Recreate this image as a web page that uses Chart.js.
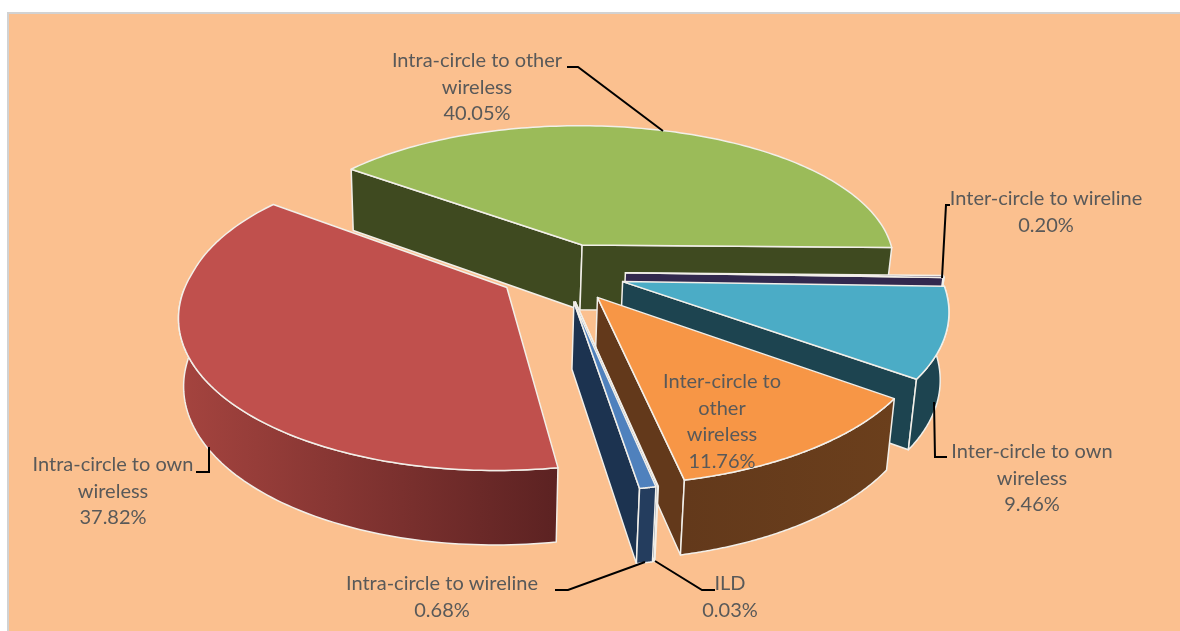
<!DOCTYPE html>
<html>
<head>
<meta charset="utf-8">
<style>
  html, body { margin: 0; padding: 0; background: #fff; overflow: hidden; }
  #frame { position: absolute; left: 7px; top: 12px; width: 1173px; height: 619px; box-sizing: border-box;
           background: #fbc08f; border-left: 2px solid #d2d2d2; border-top: 2px solid #d2d2d2; }
  #pie { position: absolute; left: 0; top: 0; }
</style>
<script src="https://cdn.jsdelivr.net/npm/chart.js@4/dist/chart.umd.min.js"></script>
</head>
<body>
<div id="frame"></div>
<canvas id="pie" width="1180" height="631"></canvas>
<script>
const categories = [
  'Intra-circle to other wireless',
  'Inter-circle to wireline',
  'Inter-circle to own wireless',
  'Inter-circle to other wireless',
  'ILD',
  'Intra-circle to wireline',
  'Intra-circle to own wireless'
];
const shares = [40.05, 0.20, 9.46, 11.76, 0.03, 0.68, 37.82];

const topColors   = ['#9bbb59', '#3a2f55', '#4bacc6', '#f79646', '#4f81bd', '#4f81bd', '#c0504d'];
const faceColors  = ['#3f4a20', '#32284e', '#1d4450', '#63391b', '#1c3350', '#1c3350', '#5c2222'];
const wallLeft    = ['#3f4a20', '#32284e', '#1d4450', '#63391b', '#243d5e', '#243d5e', '#a5443f'];
const wallRight   = ['#3f4a20', '#32284e', '#1d4450', '#6b3f1c', '#243d5e', '#243d5e', '#5c2222'];

// label text, broken over lines the way the chart does it
const labelLines = [
  ['Intra-circle to other', 'wireless'],
  ['Inter-circle to wireline'],
  ['Inter-circle to own', 'wireless'],
  ['Inter-circle to', 'other', 'wireless'],
  ['ILD'],
  ['Intra-circle to wireline'],
  ['Intra-circle to own', 'wireless']
];
const labelX = [477, 1046, 1032, 722, 730, 442, 113];
const labelY = [61, 199, 452, 382, 584, 584, 465];
const leaders = [
  [[567, 67], [578, 67], [663, 131]],
  [[950, 205], [946, 205], [942, 278]],
  [[934, 402], [935, 457], [947, 457]],
  null,
  [[655, 561], [702, 590], [715, 590]],
  [[555, 590], [568, 590], [645, 562]],
  [[209, 447], [209, 472], [196, 472]]
];

// tilted camera: the flat pie gets squashed, front gets closer, bottom shrinks a bit
const SCALE_X = 1.28, SCALE_Y = 0.595, NEAR_BACK = 0.13, NEAR_FRONT = 0.165, DEPTH = 66;
const TAPER = 0.018, TAPER_FROM = 0.4; // bottom shrinks towards a point left of the center

const view = (el, u, v, z) => {
  const R = el.outerRadius;
  const wx = 1 - (v < 0 ? NEAR_BACK : NEAR_FRONT) * v;
  const wy = 1 - NEAR_FRONT * v;
  const x = SCALE_X * R * u / wx + TAPER_FROM * R;
  return [
    el.x + x * (1 - TAPER * z / DEPTH) - TAPER_FROM * R,
    el.y + SCALE_Y * R * v / wy + z / Math.pow(wy, 0.6)
  ];
};

const tracePoly = (ctx, pts) => {
  ctx.beginPath();
  pts.forEach((p, i) => i ? ctx.lineTo(p[0], p[1]) : ctx.moveTo(p[0], p[1]));
  ctx.closePath();
};

const fillPoly = (ctx, pts, fill) => {
  tracePoly(ctx, pts);
  ctx.fillStyle = fill;
  ctx.fill();
  ctx.strokeStyle = '#f2efe9';
  ctx.lineWidth = 1.5;
  ctx.lineJoin = 'round';
  ctx.stroke();
};

const drawSlice = (ctx, el, i) => {
  const start = el.startAngle, end = el.endAngle;
  const mid = (start + end) / 2;
  const off = el.options.offset / el.outerRadius;
  const ax = off * Math.cos(mid), ay = off * Math.sin(mid);
  const rim = (a, z) => view(el, ax + Math.cos(a), ay + Math.sin(a), z);
  const apex = z => view(el, ax, ay, z);

  // cut faces, only the ones that look at the camera
  if (Math.cos(start) < 0) {
    fillPoly(ctx, [apex(0), rim(start, 0), rim(start, DEPTH), apex(DEPTH)], faceColors[i]);
  }
  if (Math.cos(end) > 0) {
    fillPoly(ctx, [apex(0), rim(end, 0), rim(end, DEPTH), apex(DEPTH)], faceColors[i]);
  }

  // outer wall, front half of the circle only
  const wallTop = [], wallBottom = [];
  const steps = 120;
  for (let s = 0; s <= steps; s++) {
    const a = start + (end - start) * s / steps;
    if (Math.sin(a) < 0) continue;
    wallTop.push(rim(a, 0));
    wallBottom.unshift(rim(a, DEPTH));
  }
  if (wallTop.length > 1) {
    const xs = wallTop.map(p => p[0]);
    const grad = ctx.createLinearGradient(Math.min(...xs), 0, Math.max(...xs), 0);
    grad.addColorStop(0, wallLeft[i]);
    grad.addColorStop(1, wallRight[i]);
    fillPoly(ctx, wallTop.concat(wallBottom), grad);
  }

  // top face
  const top = [apex(0)];
  for (let s = 0; s <= steps; s++) top.push(rim(start + (end - start) * s / steps, 0));
  fillPoly(ctx, top, el.options.backgroundColor);
};

const pie3d = {
  id: 'pie3d',
  beforeDatasetsDraw(chart) {
    const ctx = chart.ctx;
    const arcs = chart.getDatasetMeta(0).data;
    const order = arcs.map((el, i) => i).sort((a, b) =>
      Math.sin((arcs[a].startAngle + arcs[a].endAngle) / 2) -
      Math.sin((arcs[b].startAngle + arcs[b].endAngle) / 2));
    ctx.save();
    order.forEach(i => drawSlice(ctx, arcs[i], i));
    ctx.restore();
    return false; // slices are done, skip the flat ones
  },
  // afterDatasetsDraw does not fire once the hook above cancels
  afterDraw(chart) {
    const ctx = chart.ctx;
    ctx.save();
    ctx.strokeStyle = '#000';
    ctx.lineWidth = 2;
    leaders.forEach(line => {
      if (!line) return;
      ctx.beginPath();
      line.forEach((p, i) => i ? ctx.lineTo(p[0], p[1]) : ctx.moveTo(p[0], p[1]));
      ctx.stroke();
    });
    ctx.fillStyle = '#595959';
    ctx.font = '20px Lato';
    ctx.textAlign = 'center';
    ctx.textBaseline = 'middle';
    shares.forEach((v, i) => {
      const lines = labelLines[i].concat(v.toFixed(2) + '%');
      lines.forEach((t, n) => ctx.fillText(t, labelX[i], labelY[i] + n * 26.5));
    });
    ctx.restore();
  }
};

new Chart(document.getElementById('pie'), {
  type: 'pie',
  data: {
    labels: categories,
    datasets: [{ data: shares, backgroundColor: topColors, borderWidth: 0, offset: 49.5 }]
  },
  options: {
    responsive: false,
    animation: false,
    rotation: -53.1,
    layout: { padding: { right: 56, bottom: 87 } },
    plugins: { legend: { display: false }, tooltip: { enabled: false } }
  },
  plugins: [pie3d]
});
</script>
</body>
</html>
